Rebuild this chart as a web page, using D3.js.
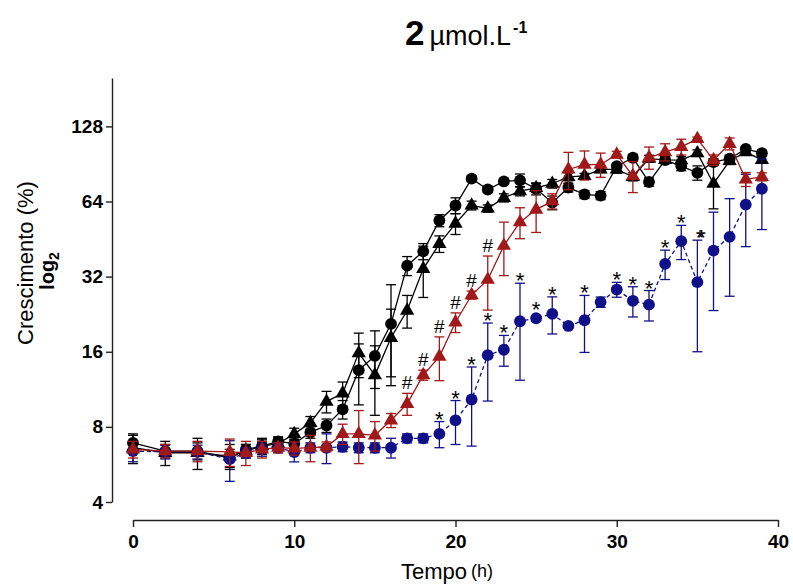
<!DOCTYPE html>
<html>
<head>
<meta charset="utf-8">
<script src="https://cdn.jsdelivr.net/npm/d3@7"></script>
<style>
  body { margin: 0; background: #fff; }
  svg { display: block; }
  text { font-family: "Liberation Sans", Arial, sans-serif; }
</style>
</head>
<body>
<svg id="chart" width="793" height="585"></svg>
<script>
// sampling times (h)
const hours = [0, 2, 4, 6, 7, 8, 9, 10, 11, 12, 13, 14, 15, 16, 17, 18, 19, 20, 21, 22,
  23, 24, 25, 26, 27, 28, 29, 30, 31, 32, 33, 34, 35, 36, 37, 38, 39];

// black circles
const blackCircleMean = [6.9, 6.4, 6.4, 6.0, 6.5, 6.7, 7.0, 6.85, 7.6, 8.1, 9.4, 13.5, 15.4, 20.7,
  35.4, 40.4, 53.7, 61.7, 79, 71.5, 77, 77.8, 72, 63.3, 72.8, 68.3, 67.6, 88.7, 95.8, 76.6, 93.8,
  88.7, 83.4, 92, 95, 104, 100];
const blackCircleErr = [0.5, 0.4, 0.5, 0.5, 0.3, 0.4, 0.3, 0.3, 0.4, 0.5, 0.8, 3.7, 4, 9, 3.1, 3,
  3, 4.5, 2, 2, 2, 4.7, 4, 4, 3, 2.5, 2.5, 2, 3, 3, 3, 3.7, 5.5, 3, 3, 2, 3];

// black triangles
const blackTriangleMean = [6.6, 6.3, 6.3, 6.1, 6.4, 6.7, 6.85, 7.5, 8.3, 10.1, 10.9, 15.8, 12.9,
  18.2, 23.4, 34.4, 43.3, 52.2, 61.7, 60, 66.2, 70.4, 72.5, 75.4, 80.4, 81, 86, 86, 80.4, 95, 94,
  93.8, 100, 75.4, 93, 101, 94];
const blackTriangleErr = [0.9, 0.7, 0.9, 0.7, 0.4, 0.5, 0.4, 0.4, 0.5, 1.0, 1.2, 3.2, 4, 5.5, 3.5,
  8, 3.3, 5, 2.5, 2, 2.5, 3, 3, 3, 3, 2, 2.5, 3, 3, 3, 3, 3, 3, 15.6, 3, 2, 3];

// red triangles
const redTriangleMean = [6.5, 6.4, 6.4, 6.35, 6.3, 6.5, 6.6, 6.56, 6.6, 6.66, 7.5, 7.5, 7.4, 8.5,
  9.9, 12.9, 15.3, 21, 27, 31.1, 42.6, 52.9, 59.4, 64.2, 86, 90, 90, 98.7, 81, 96, 101, 106, 114,
  93.8, 109, 78.5, 80.4];
const redTriangleErr = [0.5, 0.4, 0.6, 0.8, 0.7, 0.5, 0.3, 0.4, 0.8, 0.3, 0.7, 1.8, 1.0, 0.55, 1.0,
  0.6, 3.05, 1.9, 1.0, 7.6, 10.3, 7.5, 11.3, 4.5, 14.7, 12, 10, 3, 11.5, 9.8, 8, 7.7, 2, 4.5, 6, 5, 3];

// blue circles
const blueCircleMean = [6.4, 6.35, 6.35, 5.94, 6.3, 6.5, 6.6, 6.34, 6.6, 6.6, 6.66, 6.6, 6.6, 6.6,
  7.2, 7.2, 7.5, 8.5, 10.3, 15.5, 16.3, 21.2, 21.8, 22.7, 20.3, 21.4, 25.3, 28.4, 25.6, 24.7, 36,
  44.4, 30.4, 40.7, 46.2, 62.2, 72];
const blueCircleErr = [0.6, 0.4, 0.4, 1.1, 0.3, 0.4, 0.3, 0.55, 0.3, 0.9, 0.3, 0.3, 0.3, 0.6, 0.3,
  0.3, 0.9, 1.7, 3.6, 5.35, 2.3, 8.9, 0.5, 3.85, 0.4, 5.5, 1.2, 1.95, 3.55, 3.45, 4.85, 6.95, 14.4,
  17.3, 19.5, 20, 22.6];

// significance marks
const hashHours = [17, 18, 19, 20, 21, 22];
const starHours = [19, 20, 21, 22, 23, 24, 25, 26, 28, 30, 31, 32, 33, 34, 35];
const starLabels = ["*", "*", "*", "*", "*", "*", "*", "*", "*", "*", "*", "*", "*", "*", "**"];

const xTicks = [0, 10, 20, 30, 40];
const yTicks = [4, 8, 16, 32, 64, 128];

const RED = "#a01818";
const BLUE = "#101088";

const svg = d3.select("#chart");

const x = d3.scaleLinear().domain([0, 40]).range([133, 778]);
const y = d3.scaleLog().base(2).domain([4, 200]).range([502, 78]);

const series = [
  { mean: blackCircleMean, err: blackCircleErr, color: "#000", symbol: d3.symbolCircle, size: 110, dash: null },
  { mean: blackTriangleMean, err: blackTriangleErr, color: "#000", symbol: d3.symbolTriangle, size: 88, dash: null },
  { mean: blueCircleMean, err: blueCircleErr, color: BLUE, symbol: d3.symbolCircle, size: 110, dash: "4,3" },
  { mean: redTriangleMean, err: redTriangleErr, color: RED, symbol: d3.symbolTriangle, size: 88, dash: null },
];

// axes
const yAxis = svg.append("g")
  .attr("transform", "translate(112,0)")
  .call(d3.axisLeft(y).tickValues(yTicks).tickFormat(d3.format("d")).tickSize(6).tickSizeOuter(0).tickPadding(3));

const xAxis = svg.append("g")
  .attr("transform", "translate(0,520)")
  .call(d3.axisBottom(x).tickValues(xTicks).tickSize(7).tickSizeOuter(0).tickPadding(8));

[yAxis, xAxis].forEach((axis) => {
  axis.select(".domain").attr("stroke", "#222").attr("stroke-width", 1.4);
  axis.selectAll(".tick line").attr("stroke", "#222").attr("stroke-width", 1.4);
  axis.selectAll(".tick text")
    .attr("fill", "#000")
    .attr("font-family", "'Liberation Sans', Arial, sans-serif")
    .attr("font-weight", "bold")
    .attr("font-size", 19);
});

// series
const plot = svg.append("g");

series.forEach((s) => {
  const points = hours.map((h, i) => ({ h, m: s.mean[i], e: s.err[i] }));
  const g = plot.append("g");

  g.append("path")
    .datum(points)
    .attr("fill", "none")
    .attr("stroke", s.color)
    .attr("stroke-width", 1.3)
    .attr("stroke-dasharray", s.dash)
    .attr("d", d3.line().x((p) => x(p.h)).y((p) => y(p.m)));

  const bars = g.selectAll(".err")
    .data(points)
    .join("g")
    .attr("class", "err")
    .attr("stroke", s.color)
    .attr("stroke-width", 1.3);

  bars.append("line")
    .attr("x1", (p) => x(p.h)).attr("x2", (p) => x(p.h))
    .attr("y1", (p) => y(p.m + p.e))
    .attr("y2", (p) => y(Math.max(p.m - p.e, 4.05)));

  bars.append("line")
    .attr("x1", (p) => x(p.h) - 5).attr("x2", (p) => x(p.h) + 5)
    .attr("y1", (p) => y(p.m + p.e)).attr("y2", (p) => y(p.m + p.e));

  bars.append("line")
    .attr("x1", (p) => x(p.h) - 5).attr("x2", (p) => x(p.h) + 5)
    .attr("y1", (p) => y(p.m - p.e)).attr("y2", (p) => y(p.m - p.e));

  g.selectAll(".pt")
    .data(points)
    .join("path")
    .attr("class", "pt")
    .attr("fill", s.color)
    .attr("transform", (p) => `translate(${x(p.h)},${y(p.m)})`)
    .attr("d", d3.symbol().type(s.symbol).size(s.size));
});

// # marks over the red series
svg.append("g")
  .selectAll("text")
  .data(hashHours)
  .join("text")
  .attr("x", (h) => x(h))
  .attr("y", (h) => {
    const i = hours.indexOf(h);
    return y(redTriangleMean[i] + redTriangleErr[i]) - 4;
  })
  .attr("text-anchor", "middle")
  .attr("font-size", 19)
  .attr("fill", "#000")
  .text("#");

// * marks over the blue series
svg.append("g")
  .selectAll("text")
  .data(starHours)
  .join("text")
  .attr("x", (h) => x(h))
  .attr("y", (h) => {
    const i = hours.indexOf(h);
    const top = Math.min(y(blueCircleMean[i] + blueCircleErr[i]), y(blueCircleMean[i]) - 6);
    return top + 5;
  })
  .attr("text-anchor", "middle")
  .attr("font-size", 22)
  .attr("letter-spacing", (h, i) => (starLabels[i].length > 1 ? -7 : 0))
  .attr("fill", "#000")
  .text((h, i) => starLabels[i]);

// title
const title = svg.append("text")
  .attr("x", 405)
  .attr("y", 45)
  .attr("fill", "#000");
title.append("tspan").attr("font-size", 35).attr("font-weight", "bold").text("2");
title.append("tspan").attr("dx", 5).attr("font-size", 27).text("µmol.L");
title.append("tspan").attr("dx", 2).attr("dy", -12).attr("font-size", 16).attr("font-weight", "bold").text("-1");

// y label
const yLabel = svg.append("g");
yLabel.append("text")
  .attr("transform", "translate(33,263) rotate(-90)")
  .attr("text-anchor", "middle")
  .attr("font-size", 22)
  .text("Crescimento (%)");
const logLabel = yLabel.append("text")
  .attr("transform", "translate(54,271) rotate(-90)")
  .attr("text-anchor", "middle")
  .attr("font-size", 20)
  .attr("font-weight", "bold");
logLabel.append("tspan").text("log");
logLabel.append("tspan").attr("dy", 5).attr("font-size", 14).text("2");

// x label
const xLabel = svg.append("text")
  .attr("x", 447)
  .attr("y", 579)
  .attr("text-anchor", "middle");
xLabel.append("tspan").attr("font-size", 22).text("Tempo");
xLabel.append("tspan").attr("dx", 4).attr("dy", -2).attr("font-size", 18).text("(h)");
</script>
</body>
</html>
